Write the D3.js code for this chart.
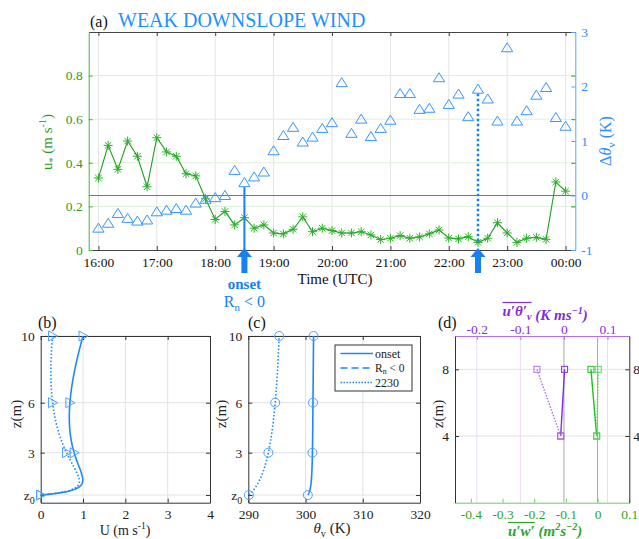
<!DOCTYPE html>
<html><head><meta charset="utf-8">
<script src="https://cdn.jsdelivr.net/npm/d3@7"></script>
<style>body{margin:0;background:#fff}</style>
</head><body><script>
// (a) 10-minute series
const times = ["16:00","16:10","16:20","16:30","16:40","16:50","17:00","17:10","17:20","17:30","17:40","17:50",
  "18:00","18:10","18:20","18:30","18:40","18:50","19:00","19:10","19:20","19:30","19:40","19:50",
  "20:00","20:10","20:20","20:30","20:40","20:50","21:00","21:10","21:20","21:30","21:40","21:50",
  "22:00","22:10","22:20","22:30","22:40","22:50","23:00","23:10","23:20","23:30","23:40","23:50","00:00"];
const ustar = [0.33,0.48,0.37,0.50,0.43,0.29,0.515,0.45,0.43,0.35,0.34,0.235,
  0.14,0.177,0.115,0.148,0.10,0.115,0.078,0.074,0.095,0.152,0.084,0.10,
  0.089,0.078,0.078,0.084,0.069,0.048,0.054,0.066,0.054,0.06,0.074,0.092,
  0.055,0.051,0.061,0.035,0.054,0.125,0.078,0.035,0.054,0.058,0.049,0.312,0.27];
const dThetaV = [-0.59,-0.50,-0.32,-0.41,-0.46,-0.44,-0.29,-0.26,-0.23,-0.26,-0.13,-0.06,
  -0.03,0.01,0.47,0.245,0.35,0.44,0.83,1.11,1.26,0.99,1.08,1.24,
  1.345,2.08,1.15,1.41,1.09,1.24,1.39,1.88,1.88,1.59,1.61,2.17,
  1.68,1.87,1.455,1.96,1.78,1.375,2.72,1.375,1.565,1.85,1.99,1.44,1.28];
const hourTicks = ["16:00","17:00","18:00","19:00","20:00","21:00","22:00","23:00","00:00"];
const uTicks = [0,0.2,0.4,0.6,0.8];
const dtTicks = [-1,0,1,2,3];
const onsetTime = "18:30", lateTime = "22:30";

// (b)-(d) profiles
const zLevels = [0.46,3,6,10];
const zTickText = ["z0","3","6","10"];
const uOnset = [0,0.79,0.69,1.0];
const u2230 = [0,0.61,0.28,0.28];
const thOnset = [300.4,301.2,301.3,301.4];
const th2230 = [290.1,293.5,294.7,295.4];
const zFlux = [4,8];
const uthOnset = [-0.0075,0.0015];
const uth2230 = [-0.0075,-0.062];
const uwOnset = [-0.003,-0.021];
const uw2230 = [-0.003,0.002];

const GREEN = "#1f9e1f", GREENAX = "#45b545", BLUE = "#2b8cff", BLUEARROW = "#1581f2", PURPLE = "#8a2be2";
const GRID = "#e3e3e3", FS = 13.5;
const SERIF = "Liberation Serif";
const num = d => String(d);

const svg = d3.select("body").append("svg").attr("width", 639).attr("height", 539)
  .attr("font-family", SERIF);

function rich(sel, parts, size, subShift = 0.28) {
  let shift = 0;
  parts.forEach(([s, t, st]) => {
    const target = t === "sup" ? -size * 0.4 : t === "sub" ? size * subShift : 0;
    const ts = sel.append("tspan").attr("dy", target - shift).attr("font-size", t ? size * 0.68 : size).text(s);
    if (st) ts.attr("font-style", st);
    shift = target;
  });
}
function styleAxis(g, color, textColor) {
  g.attr("font-family", SERIF).attr("font-size", FS).attr("color", color);
  g.selectAll(".tick text").attr("fill", textColor || color);
}
const toMin = s => { const [h, m] = s.split(":").map(Number); return (h < 12 ? h + 24 : h) * 60 + m - 960; };

// ---------- panel (a)
const A = {l: 88.7, r: 575.3, t: 32, b: 250};
const x = d3.scaleLinear().domain([-10, 490]).range([A.l, A.r]);
const yL = d3.scaleLinear().domain([0, 1]).range([A.b, A.t]);
const yR = d3.scaleLinear().domain([-1, 3]).range([A.b, A.t]);

svg.append("g").selectAll("line").data(hourTicks).join("line")
  .attr("x1", d => x(toMin(d))).attr("x2", d => x(toMin(d))).attr("y1", A.t).attr("y2", A.b)
  .attr("stroke", GRID).attr("stroke-width", 1);
svg.append("g").selectAll("line").data(uTicks.slice(1)).join("line")
  .attr("x1", A.l).attr("x2", A.r).attr("y1", d => yL(d)).attr("y2", d => yL(d))
  .attr("stroke", "#dcf0dc").attr("stroke-width", 1);
svg.append("line").attr("x1", A.l).attr("x2", A.r).attr("y1", yR(0)).attr("y2", yR(0))
  .attr("stroke", "#3a82de").attr("stroke-width", 1);

svg.append("g").attr("transform", `translate(0,${A.b})`)
  .call(d3.axisBottom(x).tickValues(hourTicks.map(toMin)).tickFormat((d, i) => hourTicks[i]).tickSizeInner(-4).tickSizeOuter(0).tickPadding(7))
  .call(g => styleAxis(g, "#444", "#111"));
svg.append("g").attr("transform", `translate(0,${A.t})`)
  .call(d3.axisTop(x).tickValues(hourTicks.map(toMin)).tickFormat("").tickSizeInner(-4).tickSizeOuter(0))
  .call(g => styleAxis(g, "#444"));
svg.append("g").attr("transform", `translate(${A.l},0)`)
  .call(d3.axisLeft(yL).tickValues(uTicks).tickFormat(num).tickSizeInner(-4).tickSizeOuter(0).tickPadding(6))
  .call(g => styleAxis(g, GREENAX, GREEN));
svg.append("g").attr("transform", `translate(${A.r},0)`)
  .call(d3.axisRight(yR).tickValues(dtTicks).tickFormat(num).tickSizeInner(-4).tickSizeOuter(0).tickPadding(6))
  .call(g => styleAxis(g, "#5aa6ff", BLUE));
svg.append("g").attr("transform", `translate(${A.r},0)`)
  .call(d3.axisRight(yL).tickValues(uTicks.slice(1)).tickFormat("").tickSizeInner(-4).tickSizeOuter(0))
  .call(g => { styleAxis(g, GREEN); g.select(".domain").remove(); });

const series = times.map((t, i) => ({m: toMin(t), u: ustar[i], dt: dThetaV[i]}));
svg.append("path").datum(series)
  .attr("d", d3.line().x(d => x(d.m)).y(d => yL(d.u)))
  .attr("fill", "none").attr("stroke", GREEN).attr("stroke-width", 1.1);
svg.append("g").selectAll("path").data(series).join("path")
  .attr("transform", d => `translate(${x(d.m)},${yL(d.u)})`)
  .attr("d", "M-4.5,0H4.5M0,-4.5V4.5M-3.2,-3.2L3.2,3.2M-3.2,3.2L3.2,-3.2")
  .attr("stroke", "#27b027").attr("stroke-width", 1);
svg.append("g").selectAll("path").data(series).join("path")
  .attr("transform", d => `translate(${x(d.m)},${yR(d.dt)})`)
  .attr("d", "M0,-4.5L5.6,4.5L-5.6,4.5Z")
  .attr("fill", "none").attr("stroke", "#3795ff").attr("stroke-width", 1);

// onset / 2230 markers
const onset = series.find(d => d.m === toMin(onsetTime));
const late = series.find(d => d.m === toMin(lateTime));
svg.append("line").attr("x1", x(onset.m)).attr("x2", x(onset.m)).attr("y1", yR(onset.dt) + 5).attr("y2", A.b)
  .attr("stroke", BLUEARROW).attr("stroke-width", 2);
svg.append("line").attr("x1", x(late.m)).attr("x2", x(late.m)).attr("y1", yR(late.dt) + 5).attr("y2", yL(late.u))
  .attr("stroke", BLUEARROW).attr("stroke-width", 2.5).attr("stroke-dasharray", "2.5,2.5");
function arrowPath(cx) {
  const top = A.b - 2, hb = top + 9, bot = top + 25;
  return `M${cx},${top}L${cx + 7.5},${hb}L${cx + 3},${hb}L${cx + 3},${bot}L${cx - 3},${bot}L${cx - 3},${hb}L${cx - 7.5},${hb}Z`;
}
svg.append("g").selectAll("path").data([onset, late]).join("path")
  .attr("d", d => arrowPath(x(d.m))).attr("fill", BLUEARROW);
svg.append("text").attr("x", x(onset.m)).attr("y", 289).attr("text-anchor", "middle")
  .attr("fill", BLUEARROW).attr("font-size", 15).attr("font-weight", "bold").text("onset");
rich(svg.append("text").attr("x", x(onset.m)).attr("y", 307).attr("text-anchor", "middle").attr("fill", BLUEARROW),
  [["R"], ["n", "sub"], [" < 0"]], 16);

// titles and labels
svg.append("text").attr("x", 90).attr("y", 27).attr("font-size", 16).attr("fill", "#111").text("(a)");
svg.append("text").attr("x", 118).attr("y", 27).attr("font-size", 20).attr("fill", "#1e90ff").text("WEAK DOWNSLOPE WIND");
svg.append("text").attr("x", (A.l + A.r) / 2 + 3).attr("y", 284).attr("text-anchor", "middle")
  .attr("font-size", 15).attr("fill", "#111").text("Time (UTC)");
rich(svg.append("text").attr("transform", "translate(52,142) rotate(-90)").attr("text-anchor", "middle").attr("fill", GREEN),
  [["u"], ["*", "sub"], [" (m s"], ["-1", "sup"], [")"]], 15);
rich(svg.append("text").attr("transform", "translate(611,141) rotate(-90)").attr("text-anchor", "middle").attr("fill", BLUE),
  [["Δ"], ["θ", "", "italic"], ["v", "sub"], [" (K)"]], 16);

// ---------- profile panels
const PT = 336, PB = 502.7;
const z = d3.scaleLinear().domain([0, 10]).range([PB, PT]);

function logZCurve(context) {
  let pts;
  return {
    areaStart() {}, areaEnd() {},
    lineStart() { pts = []; },
    point(px, py) { pts.push([px, py]); },
    lineEnd() {
      // single cubic through the points in log(z), like a not-a-knot spline on 4 points
      const s = pts.map(p => Math.log(z.invert(p[1])));
      const f = t => pts.reduce((acc, p, i) => {
        let w = 1;
        s.forEach((sj, j) => { if (j !== i) w *= (t - sj) / (s[i] - sj); });
        return acc + w * p[0];
      }, 0);
      const n = 80;
      for (let k = 0; k <= n; k++) {
        const t = s[0] + (s[s.length - 1] - s[0]) * k / n;
        if (k) context.lineTo(f(t), z(Math.exp(t))); else context.moveTo(f(t), z(Math.exp(t)));
      }
    }
  };
}

function frame(L, R, xs, xTicks, zt) {
  const g = svg.append("g");
  g.selectAll(".gx").data(xTicks).join("line").attr("x1", d => xs(d)).attr("x2", d => xs(d))
    .attr("y1", PT).attr("y2", PB).attr("stroke", GRID);
  g.selectAll(".gz").data(zt).join("line").attr("x1", L).attr("x2", R)
    .attr("y1", d => z(d)).attr("y2", d => z(d)).attr("stroke", GRID);
  return g;
}
function zAxes(L, R, zt, labels) {
  svg.append("g").attr("transform", `translate(${L},0)`)
    .call(d3.axisLeft(z).tickValues(zt).tickFormat((d, i) => labels[i]).tickSizeInner(-4).tickSizeOuter(0).tickPadding(6))
    .call(g => { styleAxis(g, "#333", "#222");
      g.selectAll(".tick text").filter(d => d === zLevels[0]).text("z").append("tspan").attr("dy", 4).attr("font-size", 10).text("0"); });
  svg.append("g").attr("transform", `translate(${R},0)`)
    .call(d3.axisRight(z).tickValues(zt).tickFormat("").tickSizeInner(-4).tickSizeOuter(0))
    .call(g => styleAxis(g, "#333", "#222"));
}
function zLabel(px) {
  svg.append("text").attr("transform", `translate(${px},414) rotate(-90)`).attr("text-anchor", "middle")
    .attr("font-size", 15).attr("fill", "#222").text("z(m)");
}

// (b)
const B = {l: 40.7, r: 210};
const xb = d3.scaleLinear().domain([0, 4]).range([B.l, B.r]);
frame(B.l, B.r, xb, [1, 2, 3], zLevels);
svg.append("g").attr("transform", `translate(0,${PB})`)
  .call(d3.axisBottom(xb).ticks(4).tickSizeInner(-4).tickSizeOuter(0).tickPadding(7)).call(g => styleAxis(g, "#333", "#222"));
svg.append("g").attr("transform", `translate(0,${PT})`)
  .call(d3.axisTop(xb).ticks(4).tickFormat("").tickSizeInner(-4).tickSizeOuter(0)).call(g => styleAxis(g, "#333"));
zAxes(B.l, B.r, zLevels, zTickText);
[[uOnset, null], [u2230, "1.5,2"]].forEach(([vals, dash]) => {
  const pts = vals.map((v, i) => [v, zLevels[i]]);
  svg.append("path").datum(pts).attr("d", d3.line().x(d => xb(d[0])).y(d => z(d[1])).curve(logZCurve))
    .attr("fill", "none").attr("stroke", "#1e88f5").attr("stroke-width", 1.6).attr("stroke-dasharray", dash);
  svg.append("g").selectAll("path").data(pts).join("path")
    .attr("transform", d => `translate(${xb(d[0])},${z(d[1])})`).attr("d", "M-4,-5L5,0L-4,5Z")
    .attr("fill", "none").attr("stroke", "#4da0ff").attr("stroke-width", 1);
});
svg.append("text").attr("x", 38).attr("y", 328).attr("font-size", 16).attr("fill", "#111").text("(b)");
zLabel(21);
rich(svg.append("text").attr("x", 125).attr("y", 535).attr("text-anchor", "middle").attr("fill", "#222"),
  [["U (m s"], ["-1", "sup"], [")"]], 14);

// (c)
const C = {l: 248.3, r: 420};
const xc = d3.scaleLinear().domain([290, 320]).range([C.l, C.r]);
frame(C.l, C.r, xc, [300, 310], zLevels);
svg.append("g").attr("transform", `translate(0,${PB})`)
  .call(d3.axisBottom(xc).tickValues([290, 300, 310, 320]).tickSizeInner(-4).tickSizeOuter(0).tickPadding(7)).call(g => styleAxis(g, "#333", "#222"));
svg.append("g").attr("transform", `translate(0,${PT})`)
  .call(d3.axisTop(xc).tickValues([290, 300, 310, 320]).tickFormat("").tickSizeInner(-4).tickSizeOuter(0)).call(g => styleAxis(g, "#333"));
zAxes(C.l, C.r, zLevels, zTickText);
[[thOnset, null], [th2230, "1.5,2"]].forEach(([vals, dash]) => {
  const pts = vals.map((v, i) => [v, zLevels[i]]);
  svg.append("path").datum(pts).attr("d", d3.line().x(d => xc(d[0])).y(d => z(d[1])).curve(logZCurve))
    .attr("fill", "none").attr("stroke", "#1e88f5").attr("stroke-width", 1.6).attr("stroke-dasharray", dash);
  svg.append("g").selectAll("circle").data(pts).join("circle")
    .attr("cx", d => xc(d[0])).attr("cy", d => z(d[1])).attr("r", 4.5)
    .attr("fill", "none").attr("stroke", "#4da0ff").attr("stroke-width", 1);
});
svg.append("text").attr("x", 248).attr("y", 328).attr("font-size", 16).attr("fill", "#111").text("(c)");
zLabel(226);
rich(svg.append("text").attr("x", 332).attr("y", 533).attr("text-anchor", "middle").attr("fill", "#222"),
  [["θ", "", "italic"], ["v", "sub"], [" (K)"]], 15);
// legend
const leg = svg.append("g").attr("transform", "translate(335,345)");
leg.append("rect").attr("width", 77).attr("height", 46).attr("fill", "#fff").attr("stroke", "#333").attr("stroke-width", 1);
[["onset", null], ["Rn", "7,4"], ["2230", "1.5,1.5"]].forEach(([name, dash], i) => {
  const yy = 8.5 + i * 14.5;
  leg.append("line").attr("x1", 5.5).attr("x2", 38).attr("y1", yy).attr("y2", yy)
    .attr("stroke", "#1e88f5").attr("stroke-width", 1.6).attr("stroke-dasharray", dash);
  const t = leg.append("text").attr("x", 40).attr("y", yy + 4).attr("fill", "#222");
  if (name === "Rn") rich(t, [["R"], ["n", "sub"], [" < 0"]], 11.5, 0.15);
  else t.attr("font-size", 12).text(name);
});

// (d)
const D = {l: 455, r: 629.3};
const xth = d3.scaleLinear().domain([-0.25, 0.15]).range([D.l, D.r]);
const xuw = d3.scaleLinear().domain([-0.45, 0.1]).range([D.l, D.r]);
const thTicks = [-0.2, -0.1, 0, 0.1], uwTicks = [-0.4, -0.3, -0.2, -0.1, 0, 0.1];
svg.append("g").selectAll("line").data([-0.2, -0.1, 0.1]).join("line")
  .attr("x1", d => xth(d)).attr("x2", d => xth(d)).attr("y1", PT).attr("y2", PB).attr("stroke", "#eadcf7");
svg.append("g").selectAll("line").data(zFlux).join("line")
  .attr("x1", D.l).attr("x2", D.r).attr("y1", d => z(d)).attr("y2", d => z(d)).attr("stroke", GRID);
svg.append("line").attr("x1", xth(0)).attr("x2", xth(0)).attr("y1", PT).attr("y2", PB).attr("stroke", "#a6a6a6");
svg.append("line").attr("x1", xuw(0)).attr("x2", xuw(0)).attr("y1", PT).attr("y2", PB).attr("stroke", "#a6a6a6");
svg.append("g").attr("transform", `translate(0,${PT})`)
  .call(d3.axisTop(xth).tickValues(thTicks).tickFormat(num).tickSizeInner(-4).tickSizeOuter(0).tickPadding(2))
  .call(g => styleAxis(g, "#b36ef0", PURPLE));
svg.append("g").attr("transform", `translate(0,${PB})`)
  .call(d3.axisBottom(xuw).tickValues(uwTicks).tickFormat(num).tickSizeInner(-4).tickSizeOuter(0).tickPadding(7))
  .call(g => styleAxis(g, "#6ccd6c", "#2aa52a"));
svg.append("g").attr("transform", `translate(${D.l},0)`)
  .call(d3.axisLeft(z).tickValues(zFlux).tickSizeInner(-4).tickSizeOuter(0).tickPadding(6)).call(g => styleAxis(g, "#333", "#222"));
svg.append("g").attr("transform", `translate(${D.r},0)`)
  .call(d3.axisRight(z).tickValues(zFlux).tickSizeInner(-4).tickSizeOuter(0).tickPadding(4)).call(g => styleAxis(g, "#333", "#222"));
[[uthOnset, xth, PURPLE, null], [uth2230, xth, "#b070ee", "1.5,1.5"],
 [uwOnset, xuw, "#22c022", null], [uw2230, xuw, "#5ad65a", "1.5,1.5"]].forEach(([vals, xs, col, dash]) => {
  const pts = vals.map((v, i) => [v, zFlux[i]]);
  svg.append("path").datum(pts).attr("d", d3.line().x(d => xs(d[0])).y(d => z(d[1])))
    .attr("fill", "none").attr("stroke", col).attr("stroke-width", 1.4).attr("stroke-dasharray", dash);
  svg.append("g").selectAll("rect").data(pts).join("rect")
    .attr("x", d => xs(d[0]) - 3).attr("y", d => z(d[1]) - 3).attr("width", 6).attr("height", 6)
    .attr("fill", "none").attr("stroke", col).attr("stroke-width", 1);
});
svg.append("text").attr("x", 438).attr("y", 328).attr("font-size", 16).attr("fill", "#111").text("(d)");
zLabel(443);
// overlined flux labels
function fluxLabel(y, over, rest, color) {
  const g = svg.append("g").attr("font-weight", "bold").attr("font-style", "italic").attr("fill", color);
  const t = g.append("text").attr("y", y);
  rich(t, over, 15);
  const ov = t.node().getComputedTextLength();
  rich(t, rest, 15);
  const total = t.node().getComputedTextLength();
  const x0 = (D.l + D.r) / 2 - total / 2 + 3;
  t.attr("x", x0);
  g.append("line").attr("x1", x0).attr("x2", x0 + ov).attr("y1", y - 13.5).attr("y2", y - 13.5)
    .attr("stroke", color).attr("stroke-width", 1.2);
}
fluxLabel(316, [["u′θ′"], ["v", "sub"]], [[" (K ms"], ["−1", "sup"], [")"]], "#7f2fd0");
fluxLabel(536, [["u′w′"]], [[" (m"], ["2", "sup"], ["s"], ["−2", "sup"], [")"]], "#2aa52a");
</script></body></html>
